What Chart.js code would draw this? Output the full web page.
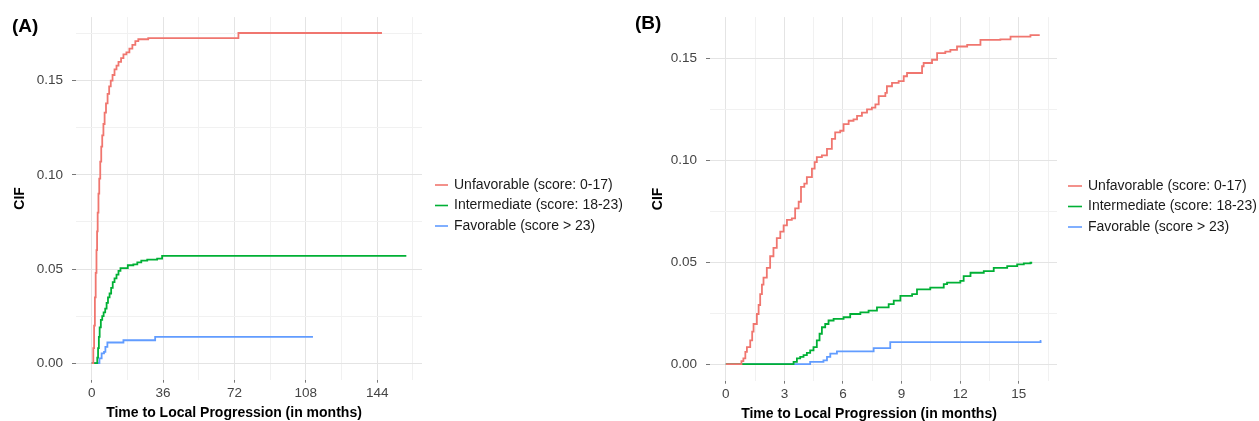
<!DOCTYPE html>
<html>
<head>
<meta charset="utf-8">
<script src="https://cdn.jsdelivr.net/npm/chart.js@4.4.1/dist/chart.umd.min.js"></script>
<style>
  body { margin: 0; background: #fff; }
  #wrap { position: relative; width: 1259px; height: 421px; }
  #chartA { position: absolute; left: 0; top: 0; }
  #chartB { position: absolute; left: 630px; top: 0; }
</style>
</head>
<body>
<div id="wrap">
  <canvas id="chartA" width="630" height="421"></canvas>
  <canvas id="chartB" width="629" height="421"></canvas>
</div>
<script>
// legend labels
const groups = ['Unfavorable (score: 0-17)', 'Intermediate (score: 18-23)', 'Favorable (score > 23)'];

// panel A: months / CIF (step jumps)
const aUnfavT = [0, 0.8, 1.2, 1.6, 2.0, 2.4, 2.7, 3.0, 3.4, 3.8, 4.3, 4.8, 5.3, 5.9, 6.5, 7.2, 8.0, 8.8, 9.6, 10.5, 11.5, 12.5, 13.5, 14.8, 16, 17.5, 19, 20.5, 22, 23.5, 28.5, 74, 146.4];
const aUnfavY = [0, 0.008, 0.02, 0.035, 0.048, 0.06, 0.07, 0.08, 0.09, 0.098, 0.107, 0.115, 0.121, 0.127, 0.133, 0.138, 0.143, 0.147, 0.15, 0.153, 0.156, 0.158, 0.16, 0.162, 0.164, 0.165, 0.167, 0.169, 0.171, 0.172, 0.1726, 0.1753, 0.1753];
const aInterT = [0, 2.8, 3.2, 3.6, 4.0, 4.6, 5.3, 6.0, 6.8, 7.5, 8.2, 9.0, 9.8, 10.6, 11.5, 12.5, 13.5, 14.5, 18.2, 21, 23, 25, 28, 33, 35.5, 158.7];
const aInterY = [0, 0.003, 0.008, 0.014, 0.019, 0.023, 0.025, 0.027, 0.029, 0.032, 0.035, 0.037, 0.04, 0.043, 0.045, 0.047, 0.049, 0.0505, 0.052, 0.0525, 0.0535, 0.0545, 0.055, 0.0555, 0.057, 0.057];
const aFavT = [0, 3.9, 5.0, 6.2, 6.9, 7.9, 16, 32, 111.6];
const aFavY = [0, 0.0026, 0.0052, 0.006, 0.0087, 0.011, 0.0122, 0.014, 0.014];

// panel B: months / CIF
const bUnfavT = [0, 0.8, 0.9, 1.0, 1.08, 1.25, 1.35, 1.42, 1.59, 1.68, 1.76, 1.85, 1.93, 2.1, 2.27, 2.44, 2.61, 2.79, 2.96, 3.13, 3.38, 3.55, 3.73, 3.85, 4.02, 4.15, 4.41, 4.55, 4.66, 4.92, 5.18, 5.43, 5.6, 5.86, 6.03, 6.29, 6.54, 6.72, 6.97, 7.23, 7.48, 7.66, 7.83, 8.17, 8.25, 8.51, 8.85, 9.11, 9.28, 10.05, 10.13, 10.56, 10.82, 11.24, 11.5, 11.84, 12.36, 13.04, 14.06, 14.58, 15.6, 16.03];
const bUnfavY = [0, 0.0015, 0.0028, 0.006, 0.0084, 0.0117, 0.016, 0.0197, 0.0246, 0.029, 0.0343, 0.039, 0.0424, 0.0472, 0.0529, 0.057, 0.0618, 0.065, 0.068, 0.0707, 0.0715, 0.0764, 0.0796, 0.0869, 0.0885, 0.0917, 0.0958, 0.099, 0.1015, 0.1023, 0.1055, 0.1104, 0.1136, 0.1144, 0.1176, 0.1193, 0.12, 0.1217, 0.1233, 0.1249, 0.1257, 0.1273, 0.1314, 0.133, 0.1362, 0.1379, 0.1387, 0.1411, 0.1427, 0.146, 0.1476, 0.1492, 0.1524, 0.1532, 0.154, 0.1557, 0.1565, 0.1589, 0.1592, 0.1605, 0.1613, 0.1617];
const bInterT = [0, 3.47, 3.64, 3.81, 3.98, 4.15, 4.32, 4.49, 4.66, 4.8, 4.92, 5.09, 5.26, 5.52, 6.03, 6.37, 6.89, 7.31, 7.74, 8.34, 8.6, 8.94, 9.54, 9.79, 10.47, 11.16, 11.33, 12.01, 12.18, 12.53, 13.21, 13.72, 14.41, 14.92, 15.26, 15.6, 15.69];
const bInterY = [0, 0.0011, 0.0028, 0.0036, 0.0044, 0.0055, 0.0068, 0.0084, 0.0117, 0.0149, 0.0181, 0.0197, 0.0214, 0.0222, 0.023, 0.0246, 0.0254, 0.0262, 0.0278, 0.0294, 0.0311, 0.0335, 0.0343, 0.0367, 0.0375, 0.0392, 0.04, 0.0408, 0.0432, 0.0448, 0.0456, 0.0472, 0.0481, 0.0489, 0.0494, 0.0497, 0.0497];
const bFavT = [0, 4.32, 5.0, 5.18, 5.35, 5.69, 7.57, 8.42, 16.12, 16.16];
const bFavY = [0, 0.0011, 0.0019, 0.0036, 0.0052, 0.0063, 0.0079, 0.0108, 0.0114, 0.0114];

// ticks
const aXMajor = [0, 36, 72, 108, 144];
const aXMinor = [18, 54, 90, 126, 162];
const bXMajor = [0, 3, 6, 9, 12, 15];
const bXMinor = [1.5, 4.5, 7.5, 10.5, 13.5, 16.5];
const yMajor = [0, 0.05, 0.10, 0.15];
const aYMinor = [0.025, 0.075, 0.125, 0.175];
const bYMinor = [0.025, 0.075, 0.125];

const colors = ['#F0766F', '#00B035', '#619CFF'];
const FONT = '"Liberation Sans", Arial, sans-serif';

const pts = (t, y) => t.map((v, i) => ({ x: v, y: y[i] }));

// draws the panel tag, x title and the legend
const panelDecor = {
    id: 'panelDecor',
    afterDraw(chart, args, o) {
        const c = chart.ctx;
        c.save();
        c.textBaseline = 'middle';
        c.fillStyle = '#000';
        c.textAlign = 'left';
        c.font = 'bold 19px ' + FONT;
        c.fillText(o.tag, o.tagX, o.tagY);

        c.textAlign = 'center';
        c.font = 'bold 14px ' + FONT;
        c.fillText(o.xTitle, o.titleX, o.titleY);

        c.textAlign = 'left';
        c.font = '14px ' + FONT;
        chart.data.datasets.forEach((ds, i) => {
            let y = o.legendY + i * o.rowGap;
            c.strokeStyle = ds.borderColor;
            c.lineWidth = 1.6;
            c.beginPath();
            c.moveTo(o.legendX, y);
            c.lineTo(o.legendX + o.keyLen, y);
            c.stroke();
            c.fillStyle = '#1a1a1a';
            c.fillText(ds.label, o.legendX + o.keyLen + 6, y);
        });
        c.restore();
    }
};

function makeChart(id, p) {
    let xTicks = p.xMajor.concat(p.xMinor).sort((a, b) => a - b);
    let yTicks = yMajor.concat(p.yMinor).sort((a, b) => a - b);
    let gridColor = major => ctx => major.includes(ctx.tick.value) ? '#e4e4e4' : '#f1f1f1';
    let tickColor = major => ctx => major.includes(ctx.tick.value) ? '#777' : 'rgba(0,0,0,0)';

    return new Chart(document.getElementById(id).getContext('2d'), {
        type: 'line',
        data: {
            datasets: p.series.map((s, i) => ({
                label: groups[i],
                data: s,
                borderColor: colors[i],
                backgroundColor: colors[i],
                borderWidth: 1.8,
                pointRadius: 0,
                stepped: true,
                fill: false
            }))
        },
        options: {
            responsive: false,
            animation: false,
            devicePixelRatio: 1,
            layout: { padding: { top: p.top, right: p.padRight, bottom: 0, left: 0 } },
            plugins: {
                legend: { display: false },
                tooltip: { enabled: false },
                panelDecor: p.decor
            },
            scales: {
                x: {
                    type: 'linear',
                    min: p.xMin,
                    max: p.xMax,
                    afterBuildTicks: s => { s.ticks = xTicks.map(v => ({ value: v })); },
                    afterFit: s => { s.height = 421 - p.bottom; },
                    border: { display: false },
                    grid: { color: gridColor(p.xMajor), tickColor: tickColor(p.xMajor), tickLength: 3, lineWidth: 1 },
                    ticks: {
                        autoSkip: false, maxRotation: 0, padding: 2, color: '#444',
                        font: { family: FONT, size: 13.5 },
                        callback: v => p.xMajor.includes(v) ? String(v) : ''
                    }
                },
                y: {
                    min: p.yMin,
                    max: p.yMax,
                    afterBuildTicks: s => { s.ticks = yTicks.map(v => ({ value: v })); },
                    afterFit: s => { s.width = p.left; },
                    border: { display: false },
                    grid: { color: gridColor(yMajor), tickColor: tickColor(yMajor), tickLength: 4, lineWidth: 1 },
                    ticks: {
                        autoSkip: false, padding: 9, color: '#444',
                        font: { family: FONT, size: 13.5 },
                        callback: v => yMajor.includes(v) ? v.toFixed(2) : ''
                    },
                    title: {
                        display: true, text: 'CIF', color: '#000',
                        font: { family: FONT, size: 14, weight: 'bold' },
                        padding: { top: p.yTitlePad, bottom: 0 }
                    }
                }
            }
        },
        plugins: [panelDecor]
    });
}

makeChart('chartA', {
    series: [pts(aUnfavT, aUnfavY), pts(aInterT, aInterY), pts(aFavT, aFavY)],
    xMin: -7.93, xMax: 166.6, yMin: -0.00875, yMax: 0.18375,
    xMajor: aXMajor, xMinor: aXMinor, yMinor: aYMinor,
    top: 12.6, bottom: 379.7, left: 76, padRight: 208, yTitlePad: 11.6,
    decor: { tag: '(A)', tagX: 12, tagY: 27, xTitle: 'Time to Local Progression (in months)', titleX: 234, titleY: 413,
             legendX: 435, legendY: 185, rowGap: 20.5, keyLen: 13 }
});

makeChart('chartB', {
    series: [pts(bUnfavT, bUnfavY), pts(bInterT, bInterY), pts(bFavT, bFavY)],
    xMin: -0.81, xMax: 16.96, yMin: -0.0081, yMax: 0.1701,
    xMajor: bXMajor, xMinor: bXMinor, yMinor: bYMinor,
    top: 13.6, bottom: 380.7, left: 80, padRight: 202, yTitlePad: 19.6,
    decor: { tag: '(B)', tagX: 5, tagY: 24, xTitle: 'Time to Local Progression (in months)', titleX: 239, titleY: 414,
             legendX: 438, legendY: 186, rowGap: 20.5, keyLen: 14 }
});
</script>
</body>
</html>
